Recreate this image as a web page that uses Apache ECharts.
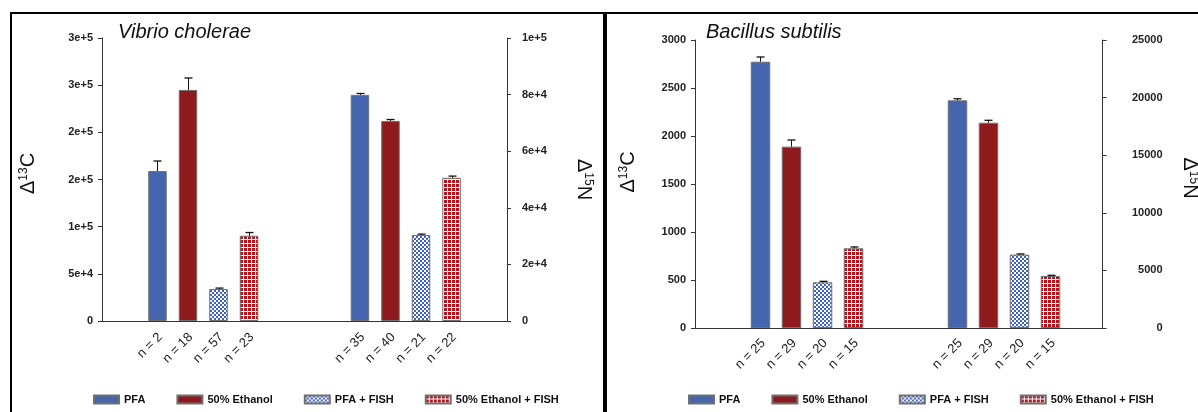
<!DOCTYPE html>
<html><head><meta charset="utf-8">
<script src="https://cdn.jsdelivr.net/npm/echarts@6/dist/echarts.min.js"></script>
<style>
html,body{margin:0;padding:0;background:#fff;}
#wrap{position:relative;width:1198px;height:412px;overflow:hidden;}
#chart{position:absolute;left:0;top:0;width:1198px;height:412px;}
.b{position:absolute;pointer-events:none;background:#000;}
</style></head><body>
<div id="wrap"><div id="chart"></div>
<div class="b" style="left:10px;top:12px;width:2px;height:400px;"></div>
<div class="b" style="left:10px;top:12px;width:1188px;height:2px;"></div>
<div class="b" style="left:603px;top:12px;width:4px;height:400px;"></div>
</div>
<script>
// ---------- data ----------
const treatments = ['PFA', '50% Ethanol', 'PFA + FISH', '50% Ethanol + FISH'];
const groups = ['13C', '15N'];

// Vibrio cholerae
const vcC13Mean  = [159000, 244900, 33900, 90400];
const vcC13Upper = [169600, 257600, 34900, 93800];
const vcC13N     = ['n = 2', 'n = 18', 'n = 57', 'n = 23'];
const vcN15Mean  = [79900, 70700, 30400, 50600];
const vcN15Upper = [80400, 71200, 30700, 51200];
const vcN15N     = ['n = 35', 'n = 40', 'n = 21', 'n = 22'];
const vcLeftTicks  = ['0', '5e+4', '1e+5', '2e+5', '2e+5', '3e+5', '3e+5'];
const vcRightTicks = ['0', '2e+4', '4e+4', '6e+4', '8e+4', '1e+5'];

// Bacillus subtilis
const bsC13Mean  = [2774, 1889, 476, 830];
const bsC13Upper = [2823, 1958, 486, 844];
const bsC13N     = ['n = 25', 'n = 29', 'n = 20', 'n = 15'];
const bsN15Mean  = [19760, 17820, 6370, 4514];
const bsN15Upper = [19900, 18030, 6430, 4570];
const bsN15N     = ['n = 25', 'n = 29', 'n = 20', 'n = 15'];
const bsLeftTicks  = ['0', '500', '1000', '1500', '2000', '2500', '3000'];
const bsRightTicks = ['0', '5000', '10000', '15000', '20000', '25000'];

// ---------- styles ----------
function makePattern(kind) {
  const c = document.createElement('canvas');
  c.width = 4; c.height = 4;
  const g = c.getContext('2d');
  if (kind === 'blue') {
    g.fillStyle = '#ffffff'; g.fillRect(0, 0, 4, 4);
    g.fillStyle = '#3e62c2'; g.fillRect(0, 0, 2, 2); g.fillRect(2, 2, 2, 2);
  } else {
    g.fillStyle = '#ffffff'; g.fillRect(0, 0, 4, 4);
    g.fillStyle = '#b3141c'; g.fillRect(0, 0, 3, 3);
  }
  return { image: c, repeat: 'repeat' };
}
const fills = ['#4565ae', '#8e1a1e', makePattern('blue'), makePattern('red')];
const FONT = 'Liberation Sans, Arial, sans-serif';

const grids = [], xAxes = [], yAxes = [], series = [], legends = [], titles = [];

function errRender(pitch, cap) {
  return function (params, api) {
    const cat = api.value(0), m = api.value(1), u = api.value(2), s = api.value(3);
    const p0 = api.coord([cat, m]);
    const p1 = api.coord([cat, u]);
    const x = Math.round(p0[0] + (s - 1.5) * pitch) + 0.5;
    return {
      type: 'group',
      children: [
        { type: 'line', shape: { x1: x, y1: p0[1], x2: x, y2: p1[1] }, style: { stroke: '#111', lineWidth: 1 } },
        { type: 'line', shape: { x1: x - cap / 2, y1: p1[1], x2: x + cap / 2, y2: p1[1] }, style: { stroke: '#111', lineWidth: 1.3 } }
      ]
    };
  };
}

function axisName(sup, letter) {
  return '{d|Δ}{s|' + sup + '}{d|' + letter + '}';
}
const nameRich = {
  d: { fontSize: 20, color: '#111', fontFamily: FONT },
  s: { fontSize: 12, color: '#111', fontFamily: FONT, verticalAlign: 'top' }
};

function buildPanel(p, cfg) {
  const gBars = grids.length;
  grids.push(Object.assign({ containLabel: false, outerBoundsMode: 'none' }, cfg.barGrid));
  const gLine = grids.length;
  grids.push(Object.assign({ containLabel: false, outerBoundsMode: 'none' }, cfg.lineGrid));

  const xb = xAxes.length;
  xAxes.push({ type: 'category', gridIndex: gBars, data: groups, show: false });
  xAxes.push({
    type: 'category', gridIndex: gLine, data: [''],
    axisLine: { show: true, onZero: false, lineStyle: { color: '#333', width: 1 } },
    axisTick: { show: false }, axisLabel: { show: false }, splitLine: { show: false }
  });

  const labelStyle = { fontFamily: FONT, fontWeight: 'bold', fontSize: 11, color: '#222' };
  const yl = yAxes.length;
  yAxes.push({
    type: 'value', gridIndex: gBars, position: 'left', offset: cfg.leftOffset,
    min: 0, max: cfg.leftMax, interval: cfg.leftInterval,
    axisLine: { show: true, lineStyle: { color: '#333', width: 1 } },
    axisTick: { show: true, inside: false, length: 4, lineStyle: { color: '#333' } },
    axisLabel: Object.assign({ margin: cfg.leftLabelMargin, formatter: (v, i) => cfg.leftTicks[i] }, labelStyle),
    splitLine: { show: false },
    name: axisName('13', 'C'), nameLocation: 'middle', nameGap: cfg.leftNameGap, nameRotate: 90,
    nameMoveOverlap: false,
    nameTextStyle: { rich: nameRich, padding: cfg.leftNamePad }
  });
  const yr = yAxes.length;
  yAxes.push({
    type: 'value', gridIndex: gBars, position: 'right', offset: 0,
    min: 0, max: cfg.rightMax, interval: cfg.rightInterval,
    axisLine: { show: true, lineStyle: { color: '#333', width: 1 } },
    axisTick: { show: true, inside: false, length: 4, lineStyle: { color: '#333' } },
    axisLabel: Object.assign({ margin: cfg.rightLabelMargin, align: cfg.rightAlign, formatter: (v, i) => cfg.rightTicks[i] }, labelStyle),
    splitLine: { show: false },
    name: axisName('15', 'N'), nameLocation: 'middle', nameGap: cfg.rightNameGap, nameRotate: -90,
    nameMoveOverlap: false,
    nameTextStyle: { rich: nameRich, padding: cfg.rightNamePad }
  });
  yAxes.push({ type: 'value', gridIndex: gLine, show: false, min: 0, max: 1 });

  const sides = [
    { yi: yl, mean: cfg.leftMean, upper: cfg.leftUpper, nl: cfg.leftN, cat: 0 },
    { yi: yr, mean: cfg.rightMean, upper: cfg.rightUpper, nl: cfg.rightN, cat: 1 }
  ];
  sides.forEach(sd => {
    treatments.forEach((t, i) => {
      const data = sd.cat === 0 ? [sd.mean[i], null] : [null, sd.mean[i]];
      series.push({
        type: 'bar', name: t, xAxisIndex: xb, yAxisIndex: sd.yi,
        stack: 'p' + p + 's' + i, data: data,
        barWidth: cfg.barWidth, barGap: cfg.barGap,
        itemStyle: { color: fills[i], borderColor: '#707070', borderWidth: 1 },
        label: {
          show: true, position: 'bottom', distance: cfg.labelDist, rotate: 45,
          align: 'right', verticalAlign: 'middle', offset: [4, 0],
          formatter: sd.nl[i], fontFamily: FONT, fontSize: 13, color: '#222'
        },
        emphasis: { disabled: true }, animation: false
      });
    });
    series.push({
      type: 'custom', xAxisIndex: xb, yAxisIndex: sd.yi, silent: true, z: 5,
      dimensions: ['cat', 'mean', 'upper', 'slot'],
      encode: { x: 0, y: [1, 2] },
      data: treatments.map((t, i) => [sd.cat, sd.mean[i], sd.upper[i], i]),
      renderItem: errRender(cfg.pitch, 8), animation: false
    });
  });

  legends.push({
    left: cfg.legendLeft, top: 394, itemWidth: 25, itemHeight: 8, itemGap: cfg.legendGap,
    icon: 'rect', selectedMode: false, data: treatments, padding: 0,
    textStyle: { fontFamily: FONT, fontWeight: 'bold', fontSize: 11, color: '#111' }
  });
  titles.push({
    text: cfg.title, left: cfg.titleLeft, top: 22, padding: 0,
    textStyle: { fontFamily: FONT, fontStyle: 'italic', fontWeight: 'normal', fontSize: 20, color: '#111' }
  });
}

buildPanel(0, {
  title: 'Vibrio cholerae', titleLeft: 118,
  barGrid: { left: 102, top: 38, width: 405, height: 283 },
  lineGrid: { left: 102, top: 38, width: 405, height: 283 },
  leftOffset: 0,
  leftMax: 300000, leftInterval: 50000, leftTicks: vcLeftTicks, leftLabelMargin: 9,
  rightMax: 100000, rightInterval: 20000, rightTicks: vcRightTicks, rightLabelMargin: 15, rightAlign: 'left',
  leftNameGap: 64, rightNameGap: 67, leftNamePad: [0, 0, 0, 12], rightNamePad: [0, 0, 0, 0],
  leftMean: vcC13Mean, leftUpper: vcC13Upper, leftN: vcC13N,
  rightMean: vcN15Mean, rightUpper: vcN15Upper, rightN: vcN15N,
  barWidth: 18.5, barGap: '65%', pitch: 18.5 * 1.65, labelDist: 17,
  legendLeft: 93, legendGap: 31
});
buildPanel(1, {
  title: 'Bacillus subtilis', titleLeft: 706,
  barGrid: { left: 708.5, top: 40, width: 394, height: 288 },
  lineGrid: { left: 695, top: 40, width: 408, height: 288 },
  leftOffset: 13.5,
  leftMax: 3000, leftInterval: 500, leftTicks: bsLeftTicks, leftLabelMargin: 9,
  rightMax: 25000, rightInterval: 5000, rightTicks: bsRightTicks, rightLabelMargin: 60, rightAlign: 'right',
  leftNameGap: 57, rightNameGap: 77, leftNamePad: [0, 0, 0, 24], rightNamePad: [0, 12, 0, 0],
  leftMean: bsC13Mean, leftUpper: bsC13Upper, leftN: bsC13N,
  rightMean: bsN15Mean, rightUpper: bsN15Upper, rightN: bsN15N,
  barWidth: 19.5, barGap: '59%', pitch: 19.5 * 1.59, labelDist: 16,
  legendLeft: 688, legendGap: 31
});

const chart = echarts.init(document.getElementById('chart'), null, { renderer: 'canvas' });
chart.setOption({
  animation: false,
  backgroundColor: '#fff',
  textStyle: { fontFamily: FONT },
  title: titles,
  legend: legends,
  grid: grids,
  xAxis: xAxes,
  yAxis: yAxes,
  tooltip: { show: false },
  series: series
});
</script>
</body></html>
